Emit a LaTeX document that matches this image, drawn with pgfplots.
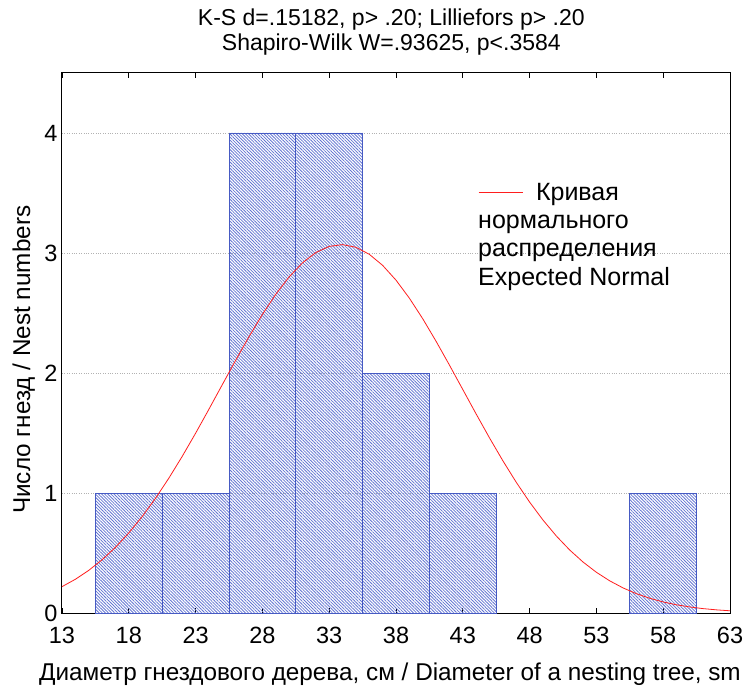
\documentclass[border=0pt]{standalone}
\usepackage{fontspec}
\setmainfont{Liberation Sans}
\usepackage{pgfplots}
\pgfplotsset{compat=1.18}
\usetikzlibrary{patterns.meta}

\definecolor{barblue}{RGB}{70,90,195}
\definecolor{hatchblue}{RGB}{100,118,210}
\definecolor{curvered}{RGB}{255,30,30}

\newcommand{\tickfont}{\fontsize{23.5}{27}\selectfont}
\newcommand{\labelfont}{\fontsize{24.3}{28}\selectfont}
\newcommand{\legfont}{\fontsize{25}{29}\selectfont}

% Expected normal curve (mean about 33.9, scaled to counts)
\pgfplotstableread{
x y
13 0.2196
14 0.2810
15 0.3552
16 0.4435
17 0.5473
18 0.6672
19 0.8035
20 0.9560
21 1.1240
22 1.3055
23 1.4982
24 1.6988
25 1.9029
26 2.1062
27 2.3029
28 2.4880
29 2.6557
30 2.8006
31 2.9180
32 3.0038
33 3.0550
34 3.0698
35 3.0476
36 2.9893
37 2.8969
38 2.7737
39 2.6238
40 2.4523
41 2.2643
42 2.0659
43 1.8621
44 1.6582
45 1.4590
46 1.2683
47 1.0893
48 0.9243
49 0.7749
50 0.6418
51 0.5252
52 0.4247
53 0.3392
54 0.2678
55 0.2088
56 0.1608
57 0.1225
58 0.0921
59 0.0684
60 0.0502
61 0.0364
62 0.0261
63 0.0185
}\normalcurve

\begin{document}
\begin{tikzpicture}[x=1pt,y=1pt]
\path[use as bounding box] (-62,-75) rectangle (684,613);
\begin{axis}[
  at={(0,0)}, anchor=south west,
  scale only axis, width=668pt, height=540pt,
  xmin=13, xmax=63, ymin=0, ymax=4.5,
  xtick={13,18,...,63}, ytick={0,1,2,3,4},
  tick align=inside, xtick pos=both, ytick pos=left,
  major tick length=5pt,
  minor x tick num=0,
  ytick style={draw=none},
  xtick style={black, line width=0.8pt},
  axis line style={black, line width=1pt},
  ymajorgrids, grid style={dotted, gray!60, line width=0.6pt},
  /pgf/number format/assume math mode=true,
  ticklabel style={font=\tickfont},
  xticklabel style={yshift=-11pt},
  yticklabel style={xshift=-1pt},
  label style={font=\labelfont},
  xlabel={Диаметр гнездового дерева, см / Diameter of a nesting tree, sm},
  ylabel={Число гнезд / Nest numbers},
  xlabel style={at={(axis description cs:0.491,0)}, anchor=base, yshift=-67pt},
  ylabel style={at={(axis description cs:-0.0479,0.469)}, anchor=base},
  title={K-S d=.15182, p> .20; Lilliefors p> .20\\Shapiro-Wilk W=.93625, p<.3584},
  title style={at={(axis description cs:0.493,1)}, anchor=south, align=center,
    font=\fontsize{23}{24.5}\selectfont, inner sep=0pt, yshift=12pt},
  legend style={draw=none, fill=none, at={(axis cs:44.14,3.506)}, anchor=west,
    font=\legfont, inner sep=0pt, column sep=11pt},
  legend cell align=left,
  legend image code/.code={\draw[#1] (0pt,0pt) -- (44pt,0pt);},
]
% histogram bars, bin width 5
\addplot[ybar interval, draw=barblue, line width=0.8pt,
  pattern={Lines[angle=-45,distance=2.2pt,line width=0.8pt]}, pattern color=hatchblue,
  forget plot]
  coordinates {(15.5,1) (20.5,1) (25.5,4) (30.5,4) (35.5,2) (40.5,1) (45.5,0)};
\addplot[ybar interval, draw=barblue, line width=0.8pt,
  pattern={Lines[angle=-45,distance=2.2pt,line width=0.8pt]}, pattern color=hatchblue,
  forget plot]
  coordinates {(55.5,1) (60.5,0)};
% expected normal curve
\addplot[curvered, line width=0.8pt] table {\normalcurve};
\addlegendentry{Кривая}
\node[anchor=base west, font=\legfont, inner sep=0pt] at (axis cs:44.14,3.204) {нормального};
\node[anchor=base west, font=\legfont, inner sep=0pt] at (axis cs:44.14,2.967) {распределения};
\node[anchor=base west, font=\legfont, inner sep=0pt] at (axis cs:44.14,2.733) {Expected Normal};
\end{axis}
\end{tikzpicture}
\end{document}
